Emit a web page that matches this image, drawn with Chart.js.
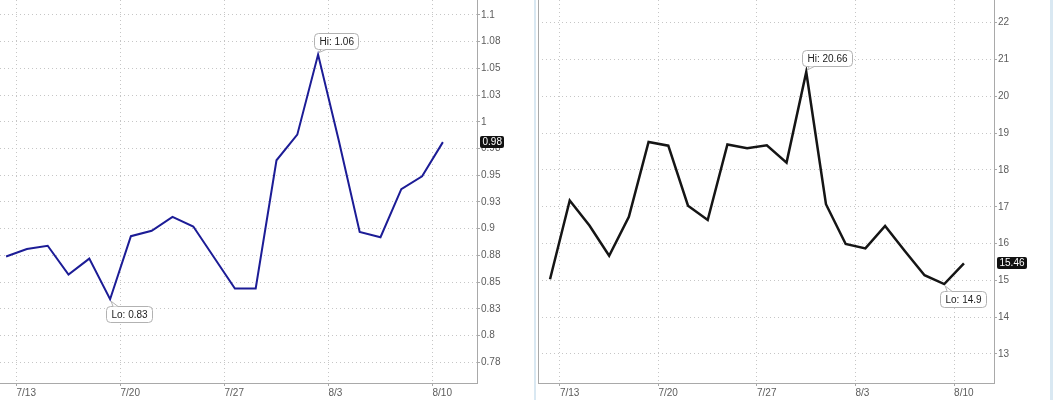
<!DOCTYPE html>
<html>
<head>
<meta charset="utf-8">
<script src="https://cdn.jsdelivr.net/npm/chart.js@4.4.1/dist/chart.umd.min.js"></script>
<style>
  html, body { margin: 0; padding: 0; background: #fff; }
  body { width: 1053px; height: 400px; position: relative; overflow: hidden; }
  canvas { position: absolute; top: 0; }
  #left { left: 0; }
  #right { left: 536px; }
  .sep { position: absolute; top: 0; height: 400px; background: #d9e8f2; }
</style>
</head>
<body>
<div class="sep" style="left:534px;width:2px"></div>
<div class="sep" style="left:1050px;width:3px"></div>
<canvas id="left" width="530" height="400"></canvas>
<canvas id="right" width="514" height="400"></canvas>
<script>
// trading days 7/10 .. 8/10, index = day number
const weekLabels = ['7/13', '7/20', '7/27', '8/3', '8/10'];
const weekStarts = [0.5, 5.5, 10.5, 15.5, 20.5];

const leftValues = [0.874, 0.881, 0.884, 0.857, 0.872, 0.834, 0.893, 0.898, 0.911, 0.902, 0.873,
                    0.844, 0.844, 0.964, 0.988, 1.063, 0.982, 0.897, 0.892, 0.937, 0.949, 0.981];
const leftTicks = [0.775, 0.8, 0.825, 0.85, 0.875, 0.9, 0.925, 0.95, 0.975, 1, 1.025, 1.05, 1.075, 1.1];
const leftTickLabels = ['0.78', '0.8', '0.83', '0.85', '0.88', '0.9', '0.93', '0.95', '0.98', '1', '1.03', '1.05', '1.08', '1.1'];

const rightValues = [15.03, 17.17, 16.49, 15.67, 16.73, 18.76, 18.66, 17.03, 16.64, 18.69, 18.59,
                     18.67, 18.20, 20.66, 17.07, 15.99, 15.87, 16.48, 15.80, 15.14, 14.90, 15.46];
const rightTicks = [13, 14, 15, 16, 17, 18, 19, 20, 21, 22];
const rightTickLabels = ['13', '14', '15', '16', '17', '18', '19', '20', '21', '22'];

const font = { family: '"Liberation Sans", Arial, sans-serif', size: 10 };
const tickColor = '#5c5c5c';
const gridColor = '#c6c6c6';
const axisColor = '#a9a9a9';

function fmt(v) { return String(Number(v.toFixed(2))); }

function callout(ctx, px, py, text, above) {
  const w = Math.round(ctx.measureText(text).width) + 10, h = 16;
  const x = Math.round(px - 4) + 0.5;
  const y = above ? Math.round(py - 6 - h) + 0.5 : Math.round(py + 7) + 0.5;
  const edge = above ? y + h : y;
  const apex = py + (above ? -2 : 2);
  ctx.beginPath();
  ctx.roundRect(x, y, w, h, 4);
  ctx.fillStyle = '#fff';
  ctx.fill();
  ctx.strokeStyle = '#b2b2b2';
  ctx.lineWidth = 1;
  ctx.stroke();
  // little pointer down/up to the point
  ctx.beginPath();
  ctx.moveTo(px + 3, edge);
  ctx.lineTo(px + 1, apex);
  ctx.lineTo(px + 8, edge);
  ctx.closePath();
  ctx.fill();
  ctx.beginPath();
  ctx.moveTo(px + 3, edge);
  ctx.lineTo(px + 1, apex);
  ctx.lineTo(px + 8, edge);
  ctx.stroke();
  ctx.fillStyle = '#222';
  ctx.textBaseline = 'middle';
  ctx.fillText(text, x + 5, y + h / 2 + 0.5);
}

const markers = {
  id: 'markers',
  beforeDatasetsDraw(chart) {
    const { ctx, chartArea } = chart;
    if (!chart.options.plugins.markers.leftBorder) return;
    ctx.save();
    ctx.strokeStyle = axisColor;
    ctx.lineWidth = 1;
    ctx.beginPath();
    ctx.moveTo(chartArea.left + 0.5, 0);
    ctx.lineTo(chartArea.left + 0.5, chartArea.bottom);
    ctx.stroke();
    ctx.restore();
  },
  afterDraw(chart) {
    const { ctx, chartArea, scales } = chart;
    const pts = chart.getDatasetMeta(0).data;
    const vals = chart.data.datasets[0].data.map(p => p.y);
    let hi = 0, lo = 0;
    vals.forEach((v, i) => { if (v > vals[hi]) hi = i; if (v < vals[lo]) lo = i; });
    ctx.save();
    ctx.font = '10px ' + font.family;
    callout(ctx, pts[hi].x, pts[hi].y, 'Hi: ' + fmt(vals[hi]), true);
    callout(ctx, pts[lo].x, pts[lo].y, 'Lo: ' + fmt(vals[lo]), false);

    // last value tag on the axis
    const last = vals[vals.length - 1];
    const y = Math.round(scales.y.getPixelForValue(last));
    const txt = fmt(last);
    const w = Math.round(ctx.measureText(txt).width) + 5;
    const x = chartArea.right + 3;
    ctx.beginPath();
    ctx.roundRect(x, y - 6, w, 12, 2);
    ctx.fillStyle = '#111';
    ctx.fill();
    ctx.fillStyle = '#fff';
    ctx.textBaseline = 'middle';
    ctx.fillText(txt, x + 2.5, y + 0.5);
    ctx.restore();
  }
};

function build(id, values, o) {
  return new Chart(document.getElementById(id), {
    type: 'line',
    data: {
      datasets: [{
        data: values.map((v, i) => ({ x: i, y: v })),
        borderColor: o.color,
        borderWidth: o.width,
        pointRadius: 0,
        tension: 0,
        fill: false
      }]
    },
    options: {
      responsive: false,
      animation: false,
      events: [],
      layout: { padding: { left: o.padLeft, top: 0, right: 0, bottom: 0 } },
      plugins: {
        legend: { display: false },
        tooltip: { enabled: false },
        markers: { leftBorder: o.leftBorder }
      },
      scales: {
        x: {
          type: 'linear',
          min: o.xMin,
          max: o.xMax,
          afterBuildTicks: s => { s.ticks = weekStarts.map(v => ({ value: v })); },
          afterFit: s => { s.height = 17; s.paddingLeft = 0; s.paddingRight = 0; },
          ticks: {
            autoSkip: false, maxRotation: 0, align: 'start', padding: 1,
            color: tickColor, font: font,
            callback: (v, i) => weekLabels[i]
          },
          grid: { color: gridColor, tickLength: 3, tickColor: axisColor },
          border: { color: axisColor, dash: [1, 3] }
        },
        y: {
          position: 'right',
          min: o.yMin,
          max: o.yMax,
          afterBuildTicks: s => { s.ticks = o.ticks.map(v => ({ value: v })); },
          afterFit: s => { s.width = o.axisWidth; s.paddingTop = 0; s.paddingBottom = 0; },
          ticks: {
            autoSkip: false, padding: 1, color: tickColor, font: font,
            callback: (v, i) => o.tickLabels[i]
          },
          grid: { color: gridColor, tickLength: 3, tickColor: axisColor },
          border: { color: axisColor, dash: [1, 3] }
        }
      }
    },
    plugins: [markers]
  });
}

build('left', leftValues, {
  color: '#1c1c96', width: 2, padLeft: 0, leftBorder: false,
  xMin: -0.293, xMax: 22.64, yMin: 0.7556, yMax: 1.114,
  ticks: leftTicks, tickLabels: leftTickLabels, axisWidth: 53
});

build('right', rightValues, {
  color: '#151515', width: 2.5, padLeft: 2, leftBorder: true,
  xMin: -0.61, xMax: 22.525, yMin: 12.212, yMax: 22.617,
  ticks: rightTicks, tickLabels: rightTickLabels, axisWidth: 56
});
</script>
</body>
</html>
